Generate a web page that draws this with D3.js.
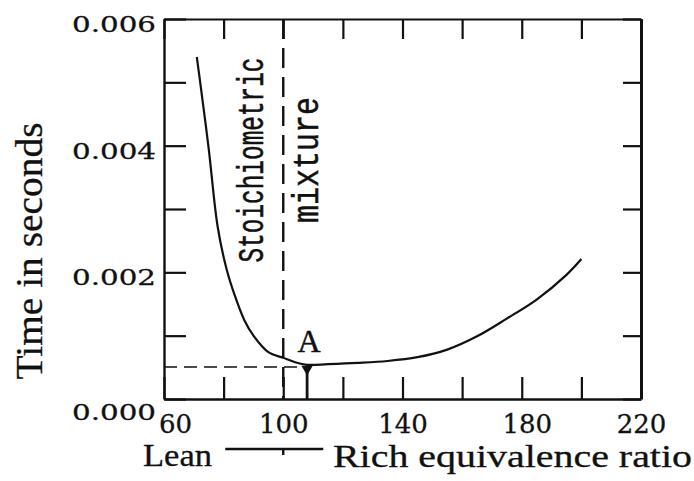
<!DOCTYPE html>
<html>
<head>
<meta charset="utf-8">
<script src="https://cdn.jsdelivr.net/npm/d3@7"></script>
<style>
  body { margin: 0; background: #fff; }
  svg { display: block; }
</style>
</head>
<body>
<svg id="chart" width="694" height="481"></svg>
<script>
// equivalence ratio vs time (s)
const ratio   = [71, 72, 75, 78, 81, 84, 87, 90, 95, 100, 104, 108, 115, 125, 135, 145, 155, 165, 175, 185, 195, 200];
const seconds = [0.00540, 0.00505, 0.00395, 0.00272, 0.00205, 0.00160, 0.00124, 0.00100, 0.00074, 0.00065, 0.00058, 0.00054,
                 0.00055, 0.00057, 0.00060, 0.00066, 0.00078, 0.00099, 0.00127, 0.00157, 0.00196, 0.00221];

const xTicks  = [60, 80, 100, 120, 140, 160, 180, 200, 220];
const xLabels = [60, 100, 140, 180, 220];
const yTicks  = [0, 0.001, 0.002, 0.003, 0.004, 0.005, 0.006];
const yLabels = ['0.000', '0.002', '0.004', '0.006'];

const stoichRatio = 100;
const pointA = { ratio: 108, time: 0.000505, label: 'A' };

const svg = d3.select('#chart');
const x = d3.scaleLinear().domain([60, 220]).range([164, 641]);
const y = d3.scaleLinear().domain([0, 0.006]).range([399, 19]);

const ink = '#111';

function styleAxis(g, w) {
  g.select('.domain').attr('stroke', ink).attr('stroke-width', w);
  g.selectAll('.tick line').attr('stroke', ink).attr('stroke-width', 2.2);
}

// left axis with labels on every other tick
const leftAxis = svg.append('g')
  .attr('transform', `translate(${x(60)},0)`)
  .call(d3.axisLeft(y).tickValues(yTicks).tickSizeInner(-22).tickSizeOuter(0).tickPadding(8)
    .tickFormat(d => {
      const s = d3.format('.3f')(d);
      return yLabels.includes(s) ? s : '';
    }));
styleAxis(leftAxis, 2.4);
leftAxis.selectAll('text')
  .attr('font-family', 'DejaVu Serif')
  .attr('font-size', 23)
  .attr('fill', ink)
  .attr('stroke', ink).attr('stroke-width', 0.3)
  .attr('y', d => d === 0 ? 13 : 5)
  .each(function() { if (this.textContent) d3.select(this).attr('textLength', 84).attr('lengthAdjust', 'spacingAndGlyphs'); });

const bottomAxis = svg.append('g')
  .attr('transform', `translate(0,${y(0)})`)
  .call(d3.axisBottom(x).tickValues(xTicks).tickSizeInner(-22).tickSizeOuter(0).tickPadding(16)
    .tickFormat(d => xLabels.includes(d) ? d : ''));
styleAxis(bottomAxis, 2.4);
bottomAxis.selectAll('text')
  .attr('font-family', 'DejaVu Serif')
  .attr('font-size', 26)
  .attr('fill', ink)
  .attr('stroke', ink).attr('stroke-width', 0.3)
  .attr('dx', d => d === 60 ? 11 : (d === 180 ? 5 : 0));

const topAxis = svg.append('g')
  .attr('transform', `translate(0,${y(0.006)})`)
  .call(d3.axisTop(x).tickValues(xTicks).tickSizeInner(-20).tickSizeOuter(0).tickFormat(''));
styleAxis(topAxis, 2);

const rightAxis = svg.append('g')
  .attr('transform', `translate(${x(220)},0)`)
  .call(d3.axisRight(y).tickValues(yTicks).tickSizeInner(-18).tickSizeOuter(0).tickFormat(''));
styleAxis(rightAxis, 3);

// stoichiometric dashed line
svg.append('line')
  .attr('x1', x(stoichRatio)).attr('x2', x(stoichRatio))
  .attr('y1', y(0.006)).attr('y2', y(0))
  .attr('stroke', ink).attr('stroke-width', 2.4)
  .attr('stroke-dasharray', '20,9');

// dashed line to point A
svg.append('line')
  .attr('x1', x(60)).attr('x2', x(pointA.ratio))
  .attr('y1', y(pointA.time)).attr('y2', y(pointA.time))
  .attr('stroke', ink).attr('stroke-width', 1.6)
  .attr('stroke-dasharray', '13,7');

svg.append('line')
  .attr('x1', x(pointA.ratio)).attr('x2', x(pointA.ratio))
  .attr('y1', y(pointA.time)).attr('y2', y(0))
  .attr('stroke', ink).attr('stroke-width', 2.8);

// the curve
const line = d3.line()
  .x(d => x(d[0]))
  .y(d => y(d[1]))
  .curve(d3.curveCatmullRom.alpha(0.5));

svg.append('path')
  .datum(d3.zip(ratio, seconds))
  .attr('d', line)
  .attr('fill', 'none')
  .attr('stroke', ink)
  .attr('stroke-width', 2.2);

svg.append('path')
  .attr('d', d3.symbol(d3.symbolTriangle, 55)())
  .attr('transform', `translate(${x(pointA.ratio)},${y(pointA.time) + 2}) rotate(180)`)
  .attr('fill', ink);

svg.append('text')
  .attr('x', x(pointA.ratio) + 2)
  .attr('y', y(pointA.time) - 15)
  .attr('text-anchor', 'middle')
  .attr('font-family', 'Liberation Serif')
  .attr('font-size', 32)
  .attr('fill', ink)
  .attr('stroke', ink).attr('stroke-width', 0.5)
  .text(pointA.label);

// rotated labels
svg.append('text')
  .attr('transform', `translate(263,160) rotate(-90)`)
  .attr('text-anchor', 'middle')
  .attr('font-family', 'Liberation Mono')
  .attr('font-size', 36)
  .attr('textLength', 205).attr('lengthAdjust', 'spacingAndGlyphs')
  .attr('fill', ink)
  .attr('stroke', ink).attr('stroke-width', 0.5)
  .text('Stoichiometric');

svg.append('text')
  .attr('transform', `translate(318,160) rotate(-90)`)
  .attr('text-anchor', 'middle')
  .attr('font-family', 'Liberation Mono')
  .attr('font-size', 37)
  .attr('textLength', 126).attr('lengthAdjust', 'spacingAndGlyphs')
  .attr('fill', ink)
  .attr('stroke', ink).attr('stroke-width', 0.5)
  .text('mixture');

svg.append('text')
  .attr('transform', `translate(42,251) rotate(-90)`)
  .attr('text-anchor', 'middle')
  .attr('font-family', 'Liberation Serif')
  .attr('font-size', 38)
  .attr('textLength', 257).attr('lengthAdjust', 'spacingAndGlyphs')
  .attr('fill', ink)
  .attr('stroke', ink).attr('stroke-width', 0.3)
  .text('Time in seconds');

// bottom caption: Lean ---- Rich equivalence ratio
svg.append('text')
  .attr('x', 143).attr('y', 466)
  .attr('font-family', 'Liberation Serif')
  .attr('font-size', 32)
  .attr('textLength', 69).attr('lengthAdjust', 'spacingAndGlyphs')
  .attr('fill', ink)
  .attr('stroke', ink).attr('stroke-width', 0.3)
  .text('Lean');

svg.append('path')
  .attr('d', `M${x(stoichRatio) - 58},449 L${x(stoichRatio) + 40},449 M${x(stoichRatio)},449 L${x(stoichRatio)},455`)
  .attr('stroke', ink).attr('stroke-width', 2.4).attr('fill', 'none');

svg.append('text')
  .attr('x', 333).attr('y', 467)
  .attr('font-family', 'Liberation Serif')
  .attr('font-size', 32)
  .attr('textLength', 359).attr('lengthAdjust', 'spacingAndGlyphs')
  .attr('fill', ink)
  .attr('stroke', ink).attr('stroke-width', 0.3)
  .text('Rich equivalence ratio');
</script>
</body>
</html>
